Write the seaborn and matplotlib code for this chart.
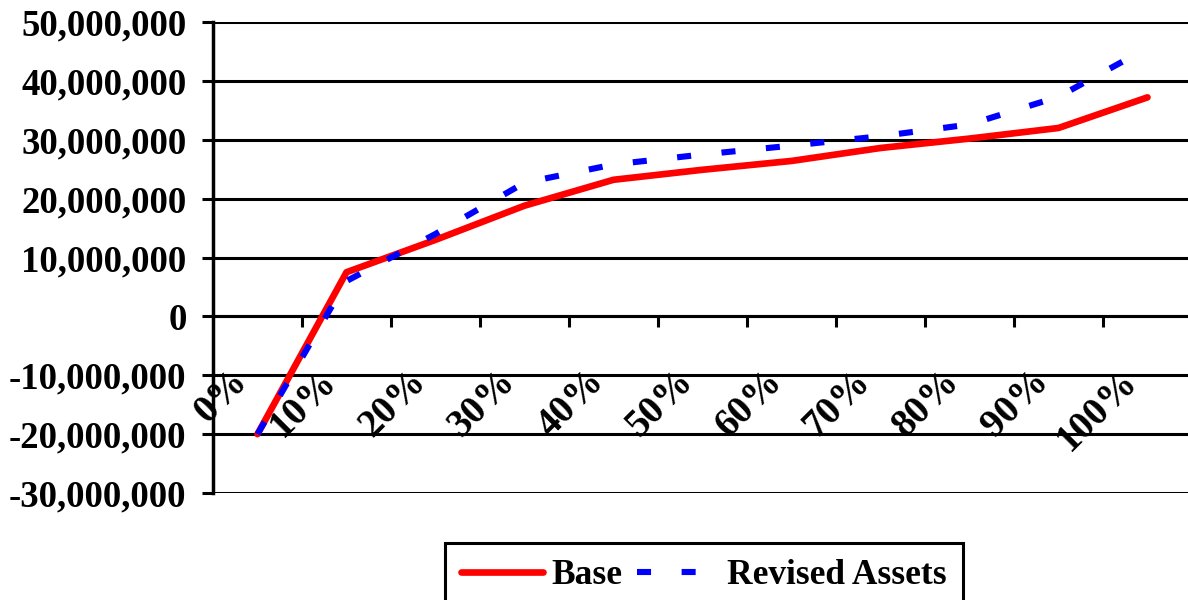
import matplotlib
matplotlib.use("Agg")
import matplotlib.pyplot as plt
import matplotlib.transforms as mtransforms
from matplotlib.ticker import FuncFormatter, FixedLocator
import seaborn as sns
import pandas as pd

categories = ["0%", "10%", "20%", "30%", "40%", "50%", "60%", "70%", "80%", "90%", "100%"]
base = [-20.0e6, 7.5e6, 13.0e6, 18.8e6, 23.2e6, 24.9e6, 26.4e6, 28.6e6, 30.2e6, 32.0e6, 37.2e6]
revised = [-20.0e6, 6.0e6, 14.0e6, 22.7e6, 25.8e6, 27.5e6, 29.0e6, 30.6e6, 32.6e6, 37.3e6, 45.6e6]
series_names = ["Base", "Revised Assets"]
y_ticks = [-30e6, -20e6, -10e6, 0, 10e6, 20e6, 30e6, 40e6, 50e6]

sns.set_theme(style="white")
plt.rcParams["font.family"] = ["Liberation Serif", "DejaVu Serif"]
plt.rcParams["font.weight"] = "bold"
plt.rcParams["axes.unicode_minus"] = False
plt.rcParams["text.color"] = "black"
plt.rcParams["axes.labelcolor"] = "black"
plt.rcParams["xtick.color"] = "black"
plt.rcParams["ytick.color"] = "black"

df = pd.DataFrame({
    "pos": list(range(len(categories))) * 2,
    "value": base + revised,
    "series": [series_names[0]] * len(base) + [series_names[1]] * len(revised),
})

fig = plt.figure(figsize=(11.88, 6.0), dpi=100)
W, H = 1188, 600
ax = fig.add_axes([213 / W, 1 - 493 / H, 979 / W, (493 - 22) / H])

# grid lines
for v in y_ticks:
    ax.axhline(v, color="black", lw=2.2, zorder=1)

sns.lineplot(data=df[df.series == "Base"], x="pos", y="value", color="#FF0000",
             lw=4.8, solid_capstyle="round", ax=ax, label="Base", zorder=3)
sns.lineplot(data=df[df.series == "Revised Assets"], x="pos", y="value", color="#0000FF",
             lw=4.4, dashes=False, ax=ax, label="Revised Assets", zorder=4)
ax.lines[-1].set_dashes((2.3, 5.0))

ax.set_xlim(-0.5, len(categories) - 0.5)
ax.set_ylim(-30e6, 50e6)
ax.set_xlabel("")
ax.set_ylabel("")

for s in ["top", "right"]:
    ax.spines[s].set_visible(False)
ax.spines["left"].set_color("black")
ax.spines["left"].set_linewidth(2.5)
ax.spines["bottom"].set_position(("data", 0))
ax.spines["bottom"].set_color("black")
ax.spines["bottom"].set_linewidth(2.2)

ax.yaxis.set_major_locator(FixedLocator(y_ticks))
ax.yaxis.set_major_formatter(FuncFormatter(lambda v, p: f"{v:,.0f}"))
ax.tick_params(axis="y", which="major", direction="out", length=8, width=2.2,
               color="black", labelsize=26.5, pad=11, left=True, labelcolor="black")
for t in ax.get_yticklabels():
    t.set_fontweight("bold")

# x ticks: boundaries as tick marks, labels placed at category centers
ax.xaxis.set_major_locator(FixedLocator([i + 0.5 for i in range(len(categories) - 1)]))
ax.set_xticklabels([])
ax.tick_params(axis="x", which="major", direction="out", length=8, width=2.2,
               color="black", bottom=True, labelbottom=False)

offset = mtransforms.ScaledTranslation(-15 / 100, -60 / 100, fig.dpi_scale_trans)
for i, lab in enumerate(categories):
    ax.text(i, 0, lab, transform=ax.transData + offset, rotation=45,
            rotation_mode="anchor", ha="right", va="center", fontsize=28,
            fontweight="bold", color="black", zorder=5)

ax.get_legend().remove()
handles, labels = ax.get_legend_handles_labels()
leg = fig.legend(handles, labels, loc="upper center", ncol=2,
                 bbox_to_anchor=(704 / W, 1 - 543 / H), bbox_transform=fig.transFigure,
                 frameon=True, fancybox=False, edgecolor="black", framealpha=1,
                 prop={"size": 25.5, "weight": "bold"}, handlelength=2.3,
                 handletextpad=0.25, columnspacing=0.4, borderpad=0.45,
                 borderaxespad=0, labelcolor="black")
leg.get_frame().set_linewidth(2.2)

fig.savefig("out.png", dpi=100)
